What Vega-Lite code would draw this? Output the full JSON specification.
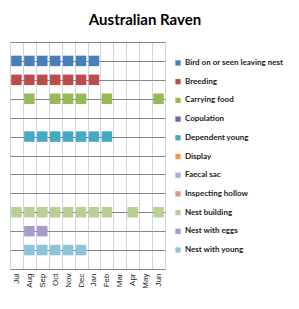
{
  "$schema": "https://vega.github.io/schema/vega-lite/v6.json",
  "width": 155,
  "height": 227,
  "padding": {"left": 6, "top": 13, "right": 0, "bottom": 0},
  "background": "white",
  "title": {"text": "Australian Raven", "font": "Lato", "fontSize": 15, "fontWeight": "bold", "color": "#000000", "anchor": "middle", "frame": "bounds", "offset": 14},
  "config": {
    "view": {"stroke": "#cdd5e3", "strokeWidth": 1},
    "axis": {"labelFont": "Liberation Sans", "labelColor": "#222222", "titleFont": "Liberation Sans"}
  },
  "data": {"values": [
    {"activity": "Bird on or seen leaving nest", "month": "Jul"},
    {"activity": "Bird on or seen leaving nest", "month": "Aug"},
    {"activity": "Bird on or seen leaving nest", "month": "Sep"},
    {"activity": "Bird on or seen leaving nest", "month": "Oct"},
    {"activity": "Bird on or seen leaving nest", "month": "Nov"},
    {"activity": "Bird on or seen leaving nest", "month": "Dec"},
    {"activity": "Bird on or seen leaving nest", "month": "Jan"},
    {"activity": "Breeding", "month": "Jul"},
    {"activity": "Breeding", "month": "Aug"},
    {"activity": "Breeding", "month": "Sep"},
    {"activity": "Breeding", "month": "Oct"},
    {"activity": "Breeding", "month": "Nov"},
    {"activity": "Breeding", "month": "Dec"},
    {"activity": "Breeding", "month": "Jan"},
    {"activity": "Carrying food", "month": "Aug"},
    {"activity": "Carrying food", "month": "Oct"},
    {"activity": "Carrying food", "month": "Nov"},
    {"activity": "Carrying food", "month": "Dec"},
    {"activity": "Carrying food", "month": "Feb"},
    {"activity": "Carrying food", "month": "Jun"},
    {"activity": "Dependent young", "month": "Aug"},
    {"activity": "Dependent young", "month": "Sep"},
    {"activity": "Dependent young", "month": "Oct"},
    {"activity": "Dependent young", "month": "Nov"},
    {"activity": "Dependent young", "month": "Dec"},
    {"activity": "Dependent young", "month": "Jan"},
    {"activity": "Dependent young", "month": "Feb"},
    {"activity": "Nest building", "month": "Jul"},
    {"activity": "Nest building", "month": "Aug"},
    {"activity": "Nest building", "month": "Sep"},
    {"activity": "Nest building", "month": "Oct"},
    {"activity": "Nest building", "month": "Nov"},
    {"activity": "Nest building", "month": "Dec"},
    {"activity": "Nest building", "month": "Jan"},
    {"activity": "Nest building", "month": "Feb"},
    {"activity": "Nest building", "month": "Apr"},
    {"activity": "Nest building", "month": "Jun"},
    {"activity": "Nest with eggs", "month": "Aug"},
    {"activity": "Nest with eggs", "month": "Sep"},
    {"activity": "Nest with young", "month": "Aug"},
    {"activity": "Nest with young", "month": "Sep"},
    {"activity": "Nest with young", "month": "Oct"},
    {"activity": "Nest with young", "month": "Nov"},
    {"activity": "Nest with young", "month": "Dec"}
  ]},
  "layer": [
    {
      "mark": {"type": "square", "size": 110, "opacity": 1, "filled": true},
      "encoding": {
        "x": {
          "field": "month", "type": "ordinal",
          "scale": {"type": "band", "domain": ["Jul","Aug","Sep","Oct","Nov","Dec","Jan","Feb","Mar","Apr","May","Jun"], "paddingInner": 0, "paddingOuter": 0},
          "axis": {"title": null, "orient": "bottom", "labelAngle": 270, "labelFontSize": 8, "labelPadding": 4, "ticks": false, "grid": true, "tickBand": "extent", "gridColor": "#cdd5e3", "gridOpacity": 1, "domain": true, "domainColor": "#878787", "domainWidth": 1}
        },
        "y": {
          "field": "activity", "type": "ordinal",
          "scale": {"type": "point", "padding": 1, "domain": ["Bird on or seen leaving nest","Breeding","Carrying food","Copulation","Dependent young","Display","Faecal  sac","Inspecting hollow","Nest building","Nest with eggs","Nest with young"]},
          "axis": {"title": null, "labels": false, "ticks": false, "domain": false, "grid": true, "gridColor": "#878787", "gridOpacity": 1, "gridWidth": 1}
        },
        "color": {
          "field": "activity", "type": "nominal",
          "scale": {
            "domain": ["Bird on or seen leaving nest","Breeding","Carrying food","Copulation","Dependent young","Display","Faecal  sac","Inspecting hollow","Nest building","Nest with eggs","Nest with young"],
            "range": ["#4a7ebb","#be4b48","#98b954","#7d60a0","#46aac5","#f79646","#9db2d6","#d99694","#b9cf93","#a99bc6","#8cc5d8"]
          },
          "legend": {
            "title": null, "orient": "none", "legendX": 164, "legendY": 17,
            "symbolType": "square", "symbolSize": 28, "symbolStrokeWidth": 0,
            "labelFont": "Lato", "labelFontSize": 8, "labelFontWeight": "bold", "labelColor": "#1a1a1a",
            "labelOffset": 3, "rowPadding": 10.7, "labelLimit": 200, "padding": 0
          }
        }
      }
    },
    {
      "mark": {"type": "square", "opacity": 0},
      "encoding": {
        "x": {
          "field": "month", "type": "ordinal",
          "axis": {"title": null, "orient": "top", "labels": false, "ticks": false, "grid": false, "domain": true, "domainColor": "#878787", "domainWidth": 1}
        }
      }
    }
  ],
  "resolve": {"axis": {"x": "independent"}}
}
